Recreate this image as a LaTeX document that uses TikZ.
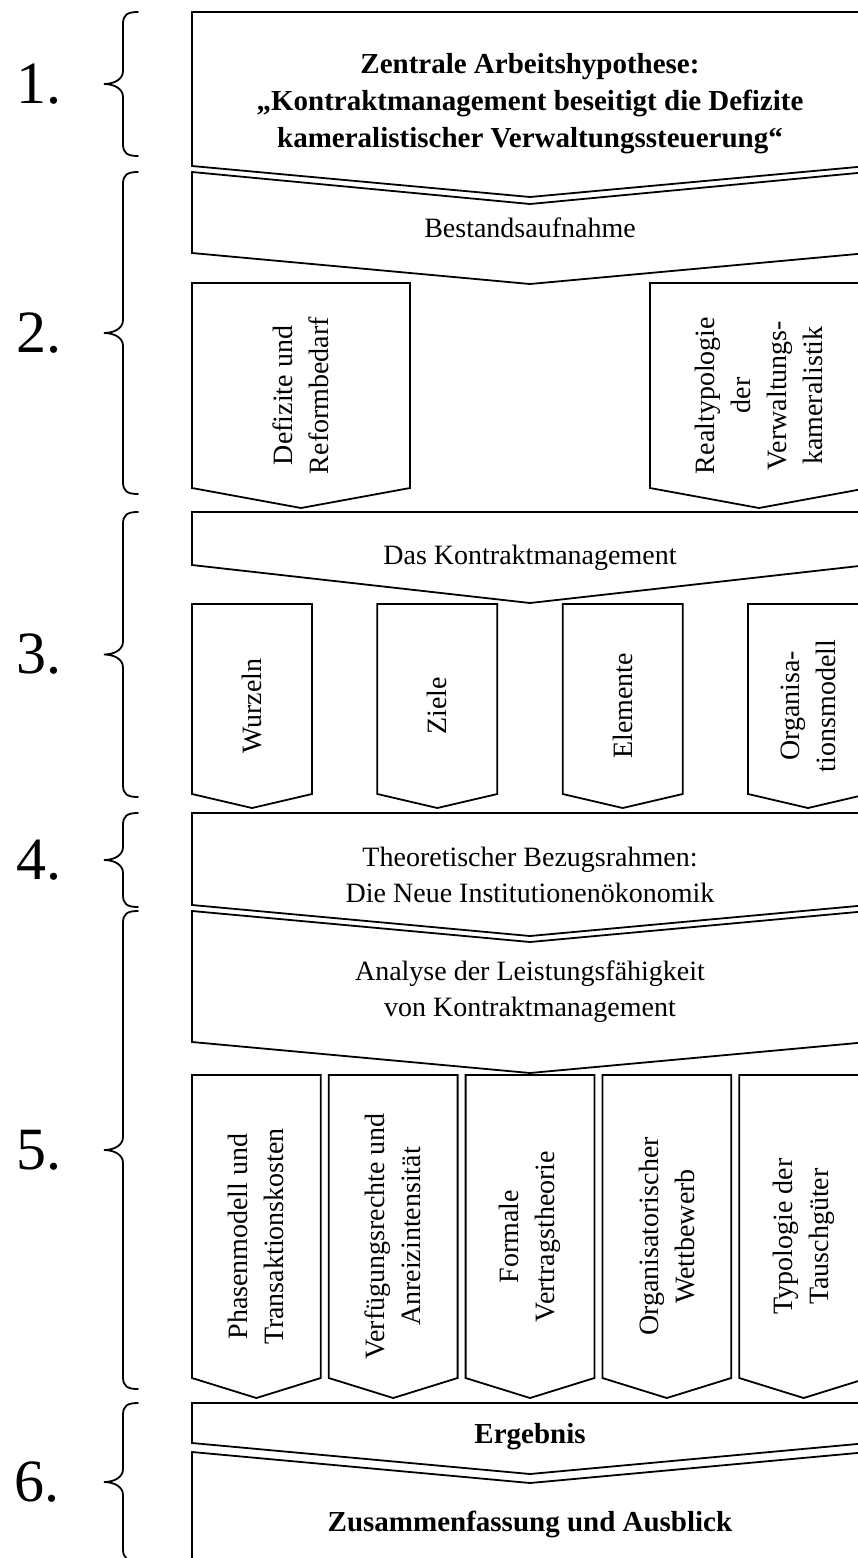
\documentclass[tikz,border=0pt]{standalone}
\usepackage{fontspec}
\setmainfont{Liberation Serif}
% down-pointing pentagon: left, right, top, corner y, apex y
\newcommand\downchev[5]{%
  \draw[shape line] (#1,#3) -- (#2,#3) -- (#2,#4) -- ({(#1+#2)/2},#5) -- (#1,#4) -- cycle;}
% chevron with notched top: left, right, top corner y, notch y, bottom corner y, apex y
\newcommand\notchchev[6]{%
  \draw[shape line] (#1,#3) -- ({(#1+#2)/2},#4) -- (#2,#3) -- (#2,#5) -- ({(#1+#2)/2},#6) -- (#1,#5) -- cycle;}
% curly brace opening to the right: top y, bottom y
\newcommand\sectbrace[2]{%
  \pgfmathsetmacro\bracetip{(#1+#2)/2}%
  \draw[brace line] (138,#1) .. controls (127,#1) and (123,#1+3) .. (123,#1+12)
    -- (123,\bracetip-13) .. controls (123,\bracetip-4) and (113,\bracetip) .. (104,\bracetip)
    .. controls (113,\bracetip) and (123,\bracetip+4) .. (123,\bracetip+13)
    -- (123,#2-12) .. controls (123,#2-3) and (127,#2) .. (138,#2);}
\begin{document}
\begin{tikzpicture}[x=1pt,y=-1pt,
  shape line/.style={draw=black,line width=1.8pt,line join=miter,fill=white},
  brace line/.style={draw=black,line width=1.8pt,line cap=round},
  txt/.style={font=\fontsize{28}{36}\selectfont,align=center,inner sep=0pt},
  btxt/.style={font=\fontsize{29}{37}\selectfont\bfseries,align=center,inner sep=0pt},
  vtxt/.style={txt,rotate=90},
  num/.style={font=\fontsize{60}{60}\selectfont,anchor=west,inner sep=0pt}]
\useasboundingbox (0,0) rectangle (858,1558);
\clip (0,0) rectangle (858,1558);

% section braces and numbers
\sectbrace{12}{156}
\sectbrace{172}{494}
\sectbrace{512}{797}
\sectbrace{813}{907}
\sectbrace{911}{1389}
\sectbrace{1403}{1561}
\node[num] (n1) at (16,84) {1.};
\node[num] (n2) at (16,333) {2.};
\node[num] (n3) at (16,654.5) {3.};
\node[num] (n4) at (16,860) {4.};
\node[num] (n5) at (16,1150) {5.};
\node[num] (n6) at (14,1482) {6.};

% 1. hypothesis
\downchev{192}{868}{12}{166}{197}
\node[btxt] (hyp) at (530,104) {Zentrale Arbeitshypothese:\\
  „Kontraktmanagement beseitigt die Defizite\\
  kameralistischer Verwaltungssteuerung“};

% 2. stocktaking
\notchchev{192}{868}{172}{204}{253}{284}
\node[txt] (bestand) at (530,228) {Bestandsaufnahme};
\downchev{192}{410}{283}{488}{508}
\node[vtxt] (defizite) at (301,395.5) {Defizite und\\Reformbedarf};
\downchev{650}{868}{283}{488}{508}
\node[vtxt] (realtyp) at (759,395.5) {Realtypologie\\der\\Verwaltungs-\\kameralistik};

% 3. contract management
\downchev{192}{868}{512}{565}{603}
\node[txt] (kontrakt) at (530,557.5) {Das Kontraktmanagement};
\foreach \i/\t in {0/Wurzeln,1/Ziele,2/Elemente,3/{Organisa-\\tionsmodell}}{
  \pgfmathsetmacro\lft{192+\i*185.333}
  \downchev{\lft}{\lft+120}{604}{794}{808}
  \node[vtxt] (km-\i) at (\lft+60,706) {\t};
}

% 4. theoretical frame
\downchev{192}{868}{813}{905}{936}
\node[txt] (theorie) at (530,874.5) {Theoretischer Bezugsrahmen:\\Die Neue Institutionenökonomik};

% 5. analysis
\notchchev{192}{868}{911}{942}{1042}{1073}
\node[txt] (analyse) at (530,992) {Analyse der Leistungsfähigkeit\\von Kontraktmanagement};
\foreach \i/\t in {0/{Phasenmodell und\\Transaktionskosten},
                   1/{Verfügungsrechte und\\Anreizintensität},
                   2/{Formale\\Vertragstheorie},
                   3/{Organisatorischer\\Wettbewerb},
                   4/{Typologie der\\Tauschgüter}}{
  \pgfmathsetmacro\lft{192+\i*136.8}
  \downchev{\lft}{\lft+128.8}{1075}{1378}{1398}
  \node[vtxt] (an-\i) at (\lft+64.4,1236.5) {\t};
}

% 6. result
\downchev{192}{868}{1403}{1443}{1474}
\node[btxt] (ergebnis) at (530,1437) {Ergebnis};
\draw[shape line] (192,1452) -- (530,1483) -- (868,1452) -- (868,1600) -- (192,1600) -- cycle;
\node[btxt] (ausblick) at (530,1524) {Zusammenfassung und Ausblick};
\end{tikzpicture}
\end{document}
